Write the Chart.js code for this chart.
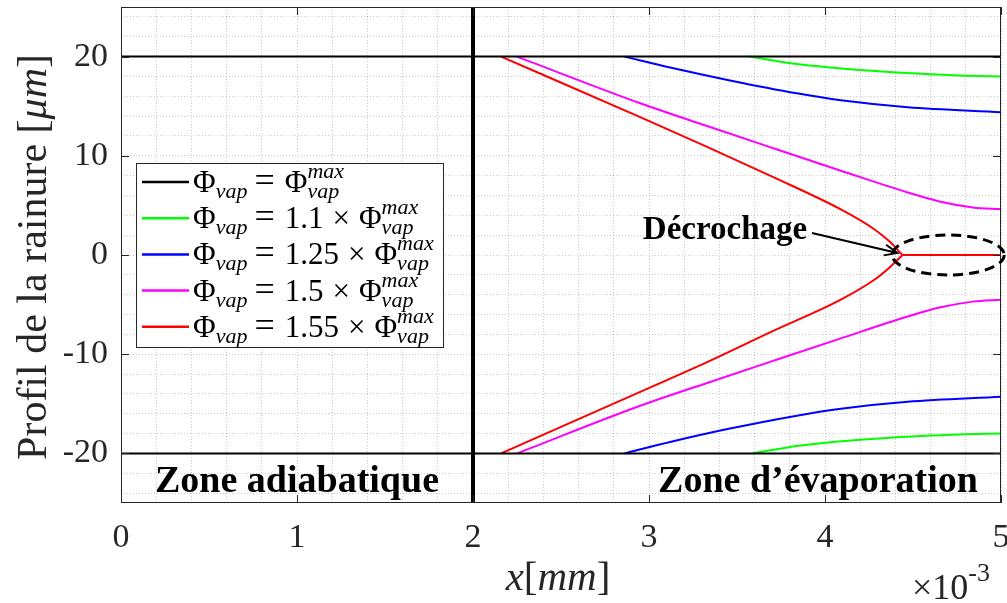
<!DOCTYPE html>
<html>
<head>
<meta charset="utf-8">
<script src="https://cdn.jsdelivr.net/npm/chart.js@4.4.0/dist/chart.umd.min.js"></script>
<style>
body { margin: 0; background: #fff; }
#wrap { width: 1007px; height: 603px; position: relative; }
</style>
</head>
<body>
<div id="wrap"><canvas id="myChart"></canvas></div>
<script>
// tick labels
const xTicks = [0, 1, 2, 3, 4, 5];
const yTicks = [-20, -10, 0, 10, 20];

// groove walls, Phi_vap = Phi_vap max
const wallX = [0, 5];
const wallTopY = [20, 20];
const wallBotY = [-20, -20];

// limit between adiabatic and evaporation zones
const limitX = [2, 2];
const limitY = [-25, 25];

// 1.1 x Phi max
const greenTopX = [3.57, 3.84, 4.03, 4.22, 4.41, 4.6, 4.8, 5.0];
const greenTopY = [20, 19.25, 18.9, 18.63, 18.4, 18.22, 18.08, 18.0];
const greenBotX = [3.59, 3.84, 4.03, 4.22, 4.41, 4.6, 4.8, 5.0];
const greenBotY = [-20, -19.25, -18.88, -18.6, -18.38, -18.2, -18.06, -18.0];

// 1.25 x Phi max
const blueTopX = [2.86, 3.12, 3.46, 3.84, 4.09, 4.47, 5.0];
const blueTopY = [20, 18.9, 17.6, 16.3, 15.6, 14.9, 14.4];
const blueBotX = [2.86, 3.12, 3.46, 3.84, 4.09, 4.47, 5.0];
const blueBotY = [-20, -18.85, -17.5, -16.2, -15.5, -14.8, -14.3];

// 1.5 x Phi max
const magTopX = [2.25, 2.95, 3.33, 3.70, 4.09, 4.47, 4.65, 4.84, 5.0];
const magTopY = [20, 15.3, 13.0, 10.8, 8.5, 6.3, 5.4, 4.8, 4.6];
const magBotX = [2.25, 2.95, 3.33, 3.70, 4.09, 4.47, 4.65, 4.84, 5.0];
const magBotY = [-20, -15.2, -12.9, -10.7, -8.4, -6.2, -5.3, -4.7, -4.5];

// 1.55 x Phi max (dry-out)
const redTopX = [2.16, 2.95, 3.33, 3.70, 4.09, 4.28, 4.37, 4.44];
const redTopY = [20, 13.9, 10.9, 7.9, 4.6, 2.6, 1.3, 0];
const redBotX = [2.16, 2.95, 3.33, 3.70, 4.09, 4.28, 4.37, 4.44];
const redBotY = [-20, -13.8, -10.8, -7.7, -4.5, -2.5, -1.2, 0];
const redDryX = [4.44, 5.0];
const redDryY = [0, 0];

// legend
const legendFactors = ['', '1.1', '1.25', '1.5', '1.55'];
const legendColors = ['#000000', '#00ff00', '#0000ff', '#ff00ff', '#ff0000'];

const SERIF = "'Liberation Serif', 'Times New Roman', serif";
const AXIS_GREY = '#262626';

function line(xs, ys, color, w) {
    return {
        data: xs.map((x, i) => ({ x: x, y: ys[i] })),
        borderColor: color,
        backgroundColor: color,
        borderWidth: w,
        pointRadius: 0,
        showLine: true,
        fill: false,
        cubicInterpolationMode: 'monotone'
    };
}

// write a run of text pieces: {t, s, it, b, dy} or {gap}
function drawRuns(ctx, x, y, runs) {
    ctx.textAlign = 'left';
    ctx.textBaseline = 'alphabetic';
    runs.forEach(r => {
        if (r.gap) { x += r.gap; return; }
        if (r.sup) {
            ctx.font = 'italic ' + r.s + 'px ' + SERIF;
            ctx.fillText(r.sup, x, y + r.dyUp);
            ctx.fillText(r.sub, x, y + r.dyDown);
            x += Math.max(ctx.measureText(r.sup).width, ctx.measureText(r.sub).width);
            return;
        }
        ctx.font = (r.it ? 'italic ' : '') + (r.b ? 'bold ' : '') + r.s + 'px ' + SERIF;
        ctx.fillText(r.t, x, y + (r.dy || 0));
        x += ctx.measureText(r.t).width;
    });
    return x;
}

function runsWidth(ctx, runs) {
    ctx.save();
    ctx.globalAlpha = 0;
    const w = drawRuns(ctx, 0, 0, runs);
    ctx.restore();
    return w;
}

const decor = {
    id: 'decor',
    afterDraw(chart) {
        const ctx = chart.ctx;
        const a = chart.chartArea;
        const xs = chart.scales.x, ys = chart.scales.y;
        ctx.save();

        // axes box and inner ticks
        ctx.strokeStyle = AXIS_GREY;
        ctx.lineWidth = 1;
        ctx.strokeRect(a.left + 0.5, a.top + 0.5, a.right - a.left - 1, a.bottom - a.top - 1);
        ctx.beginPath();
        xTicks.forEach(v => {
            const px = Math.round(xs.getPixelForValue(v)) + 0.5;
            ctx.moveTo(px, a.bottom); ctx.lineTo(px, a.bottom - 8);
            ctx.moveTo(px, a.top); ctx.lineTo(px, a.top + 8);
        });
        yTicks.forEach(v => {
            const py = Math.round(ys.getPixelForValue(v)) + 0.5;
            ctx.moveTo(a.left, py); ctx.lineTo(a.left + 8, py);
            ctx.moveTo(a.right, py); ctx.lineTo(a.right - 8, py);
        });
        ctx.stroke();

        // legend box
        const lx = 136, ly = 163, lw = 307, lh = 184;
        ctx.fillStyle = '#fff';
        ctx.fillRect(lx, ly, lw, lh);
        ctx.strokeStyle = AXIS_GREY;
        ctx.strokeRect(lx + 0.5, ly + 0.5, lw, lh);
        legendFactors.forEach((f, i) => {
            const ry = 182 + i * 36.2;
            ctx.strokeStyle = legendColors[i];
            ctx.lineWidth = 2.5;
            ctx.beginPath();
            ctx.moveTo(142, ry); ctx.lineTo(189, ry);
            ctx.stroke();
            ctx.fillStyle = '#000';
            const runs = [
                { t: 'Φ', s: 31 }, { t: 'vap', s: 22, it: true, dy: 6 },
                { gap: 7 }, { t: '=', s: 36 }, { gap: 10 }
            ];
            if (f) runs.push({ t: f, s: 31 }, { gap: 9 }, { t: '×', s: 31 }, { gap: 9 });
            runs.push({ t: 'Φ', s: 31 }, { sup: 'max', sub: 'vap', s: 22, dyUp: -14, dyDown: 6 });
            drawRuns(ctx, 193, ry + 10, runs);
        });

        // zone labels
        ctx.fillStyle = '#000';
        ctx.textAlign = 'center';
        ctx.textBaseline = 'alphabetic';
        ctx.font = 'bold 38px ' + SERIF;
        ctx.fillText('Zone adiabatique', xs.getPixelForValue(1.0), 492);
        ctx.fillText('Zone d\u2019évaporation', xs.getPixelForValue(3.96), 492);

        // dry-out annotation
        ctx.font = 'bold 33px ' + SERIF;
        ctx.fillText('Décrochage', 725, 239);
        const tipX = xs.getPixelForValue(4.44) - 5, tipY = ys.getPixelForValue(0) - 2;
        const sx = 812, sy = 233;
        ctx.strokeStyle = '#000';
        ctx.lineWidth = 2;
        ctx.beginPath();
        ctx.moveTo(sx, sy); ctx.lineTo(tipX, tipY);
        const ang = Math.atan2(tipY - sy, tipX - sx);
        ctx.moveTo(tipX - 14 * Math.cos(ang - 0.4), tipY - 14 * Math.sin(ang - 0.4));
        ctx.lineTo(tipX, tipY);
        ctx.lineTo(tipX - 14 * Math.cos(ang + 0.4), tipY - 14 * Math.sin(ang + 0.4));
        ctx.stroke();

        ctx.lineWidth = 3;
        ctx.setLineDash([10, 6]);
        ctx.beginPath();
        ctx.ellipse(xs.getPixelForValue(4.7), ys.getPixelForValue(0), 56, 20, 0, 0, Math.PI * 2);
        ctx.stroke();
        ctx.setLineDash([]);

        // axis titles
        ctx.fillStyle = AXIS_GREY;
        const yRuns = [{ t: 'Profil de la rainure [', s: 42 }, { t: 'μm', s: 42, it: true }, { t: ']', s: 42 }];
        const yw = runsWidth(ctx, yRuns);
        ctx.save();
        ctx.translate(46, 257);
        ctx.rotate(-Math.PI / 2);
        drawRuns(ctx, -yw / 2, 0, yRuns);
        ctx.restore();

        const xRuns = [{ t: 'x', s: 41, it: true }, { t: '[', s: 41 }, { t: 'mm', s: 41, it: true }, { t: ']', s: 41 }];
        const xw = runsWidth(ctx, xRuns);
        drawRuns(ctx, 558 - xw / 2, 590, xRuns);

        drawRuns(ctx, 912, 599, [{ t: '×10', s: 36 }, { t: '-3', s: 26, dy: -18 }]);

        ctx.restore();
    }
};

const ctx = document.getElementById('myChart').getContext('2d');
const myChart = new Chart(ctx, {
    type: 'scatter',
    data: {
        datasets: [
            line(limitX, limitY, '#000000', 4),
            line(wallX, wallTopY, '#000000', 2),
            line(wallX, wallBotY, '#000000', 2),
            line(redTopX, redTopY, '#ff0000', 2),
            line(redBotX, redBotY, '#ff0000', 2),
            line(redDryX, redDryY, '#ff0000', 2),
            line(magTopX, magTopY, '#ff00ff', 2),
            line(magBotX, magBotY, '#ff00ff', 2),
            line(blueTopX, blueTopY, '#0000ff', 2),
            line(blueBotX, blueBotY, '#0000ff', 2),
            line(greenTopX, greenTopY, '#00ff00', 2),
            line(greenBotX, greenBotY, '#00ff00', 2)
        ]
    },
    options: {
        responsive: true,
        maintainAspectRatio: false,
        animation: false,
        layout: { padding: { left: 0, right: 6, top: 7, bottom: 0 } },
        plugins: { legend: { display: false }, tooltip: { enabled: false } },
        scales: {
            x: {
                type: 'linear',
                min: 0,
                max: 5,
                afterBuildTicks: s => {
                    s.ticks = [];
                    for (let i = 0; i <= 25; i++) s.ticks.push({ value: Math.round(i * 2) / 10 });
                },
                afterFit: s => { s.height = 100; s.paddingLeft = 0; s.paddingRight = 0; },
                ticks: {
                    autoSkip: false,
                    maxRotation: 0,
                    padding: 15,
                    color: AXIS_GREY,
                    font: { family: SERIF, size: 34 },
                    callback: v => xTicks.includes(v) ? String(v) : ''
                },
                grid: { color: 'rgba(0,0,0,0.2)', lineWidth: 1, drawTicks: false },
                border: { display: false, dash: [1, 2] }
            },
            y: {
                type: 'linear',
                min: -25,
                max: 25,
                afterBuildTicks: s => {
                    s.ticks = [];
                    for (let v = -24; v <= 24; v += 2) s.ticks.push({ value: v });
                },
                afterFit: s => { s.width = 121; s.paddingTop = 0; s.paddingBottom = 0; },
                ticks: {
                    autoSkip: false,
                    padding: 13,
                    color: AXIS_GREY,
                    font: { family: SERIF, size: 34 },
                    callback: v => yTicks.includes(v) ? String(v) : ''
                },
                grid: { color: 'rgba(0,0,0,0.2)', lineWidth: 1, drawTicks: false },
                border: { display: false, dash: [1, 2] }
            }
        }
    },
    plugins: [decor]
});
</script>
</body>
</html>
